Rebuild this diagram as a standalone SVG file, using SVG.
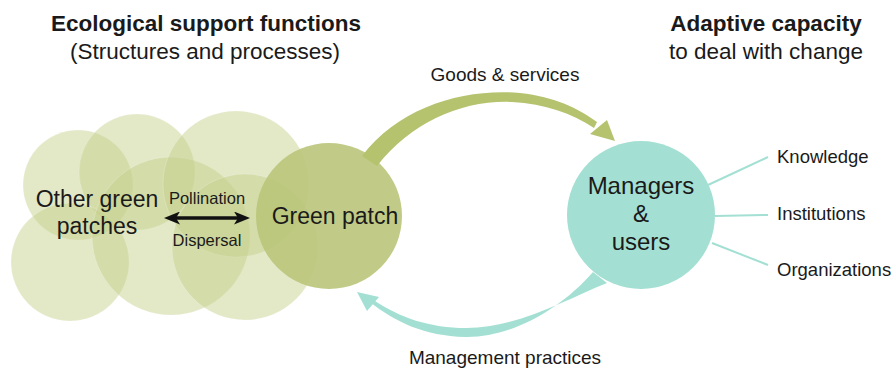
<svg xmlns="http://www.w3.org/2000/svg" width="895" height="368" viewBox="0 0 895 368">
<style>
text{font-family:"Liberation Sans",Arial,sans-serif;fill:#1a1a1a}
.other{fill:#c5cf8a;fill-opacity:0.48;stroke:#ffffff;stroke-opacity:0.35;stroke-width:0.6}
.title{font-size:22.5px;font-weight:bold}
.sub{font-size:22.5px}
.lab{font-size:19px}
.rl{font-size:18.5px}
.big{font-size:23px}
.mg{font-size:24px}
.small{font-size:16.5px}
.tl{stroke:#a3e0d3;stroke-width:2;fill:none}
</style>
<defs>
<marker id="bh" markerWidth="16" markerHeight="13" refX="8" refY="6.5" orient="auto-start-reverse" markerUnits="userSpaceOnUse" viewBox="0 0 16 13">
<path d="M0,0 L16,6.5 L0,13 L4,6.5 Z" fill="#111"/>
</marker>
</defs>
<rect width="895" height="368" fill="#fff"/>
<g id="titles">
<text class="title" x="206" y="31" text-anchor="middle">Ecological support functions</text>
<text class="sub" x="205" y="59" text-anchor="middle">(Structures and processes)</text>
<text class="title" x="766" y="31" text-anchor="middle">Adaptive capacity</text>
<text class="sub" x="766" y="59" text-anchor="middle">to deal with change</text>
</g>
<g id="other-green-patches">
<circle class="other" cx="78" cy="185" r="55"/>
<circle class="other" cx="137" cy="172" r="58"/>
<circle class="other" cx="70" cy="262" r="59"/>
<circle class="other" cx="171" cy="236" r="79"/>
<circle class="other" cx="236" cy="184" r="73"/>
<circle class="other" cx="245" cy="247" r="73"/>
<text class="big" x="97" y="207" text-anchor="middle">Other green</text>
<text class="big" x="97" y="234" text-anchor="middle">patches</text>
</g>
<g id="green-patch">
<circle cx="329" cy="216" r="73" fill="#bac57a" fill-opacity="0.9"/>
<text class="big" x="335" y="224" text-anchor="middle">Green patch</text>
</g>
<g id="managers">
<circle cx="641" cy="215" r="74" fill="#a3e0d3"/>
<text class="mg" x="641" y="194" text-anchor="middle">Managers</text>
<text class="mg" x="641" y="222" text-anchor="middle">&amp;</text>
<text class="mg" x="641" y="250" text-anchor="middle">users</text>
</g>
<g id="connectors">
<line x1="172" y1="218" x2="242" y2="218" stroke="#111" stroke-width="3.5" marker-start="url(#bh)" marker-end="url(#bh)"/>
<path d="M362,156 C400,106 465,88 520,93 C555,97 578,108 597,122 L594,128 C572,113 545,104 512,102 C462,100 412,122 377,166 Z" fill="#b5c36e"/>
<path d="M615,141 L590,134 L607,120 Z" fill="#b5c36e"/>
<path d="M593,272 C560,310 510,338 465,337 C425,336 395,322 370,302 L372,299 C400,318 430,328 466,328 C520,327 565,300 607,283 Z" fill="#a3e0d3"/>
<path d="M357,292 L367,311 L379,297 Z" fill="#a3e0d3"/>
<line class="tl" x1="708" y1="185" x2="768" y2="157"/>
<line class="tl" x1="715" y1="216" x2="768" y2="215"/>
<line class="tl" x1="712" y1="243" x2="768" y2="265"/>
</g>
<g id="labels">
<text class="small" x="207" y="204" text-anchor="middle">Pollination</text>
<text class="small" x="207" y="246" text-anchor="middle">Dispersal</text>
<text class="lab" x="505" y="81" text-anchor="middle">Goods &amp; services</text>
<text class="lab" x="505" y="364" text-anchor="middle">Management practices</text>
<text class="rl" x="777" y="163">Knowledge</text>
<text class="rl" x="777" y="220">Institutions</text>
<text class="rl" x="777" y="276">Organizations</text>
</g>
</svg>
